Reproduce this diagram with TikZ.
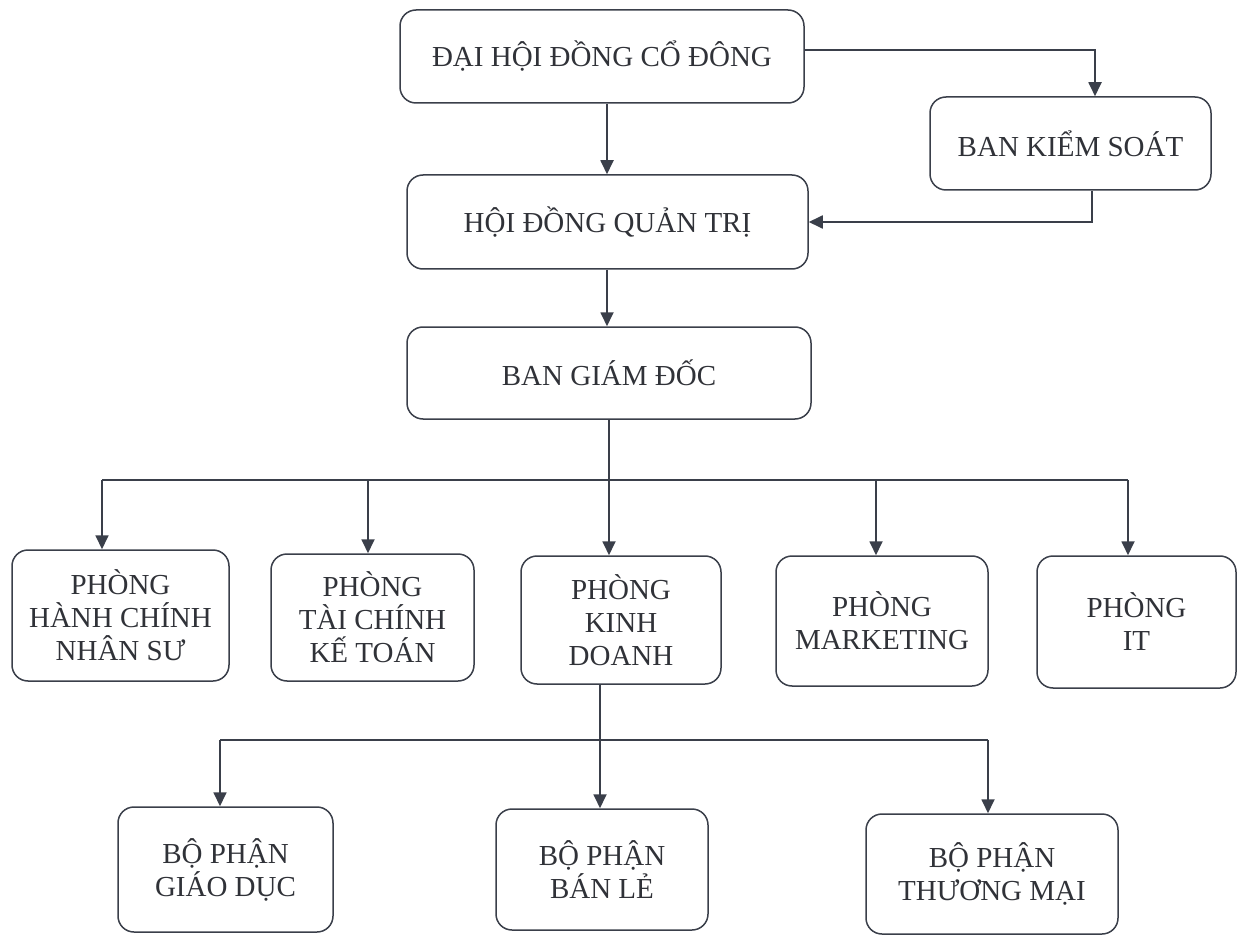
\documentclass[tikz,border=0pt]{standalone}
\usepackage{fontspec}
\setmainfont{Liberation Serif}
\usetikzlibrary{arrows.meta,calc}
\definecolor{ink}{HTML}{3A3F4A}
\definecolor{txt}{HTML}{303238}
\tikzset{
  box/.style={draw=ink, line width=1.5pt, rounded corners=16pt, align=center,
    inner sep=0pt, text=txt, font=\fontsize{29}{33}\selectfont},
  link/.style={draw=ink, line width=1.8pt},
  arr/.style={link, -{Triangle[width=13pt,length=14pt]}}
}
\begin{document}
\begin{tikzpicture}[x=1pt,y=-1pt]
\useasboundingbox (0,0) rectangle (1243,936);
% boxes
\node[box, minimum width=404, minimum height=93] (dh) at (602,56.5) {ĐẠI HỘI ĐỒNG CỔ ĐÔNG};
\node[box, minimum width=281, minimum height=93] (bks) at (1070.5,143.5) {BAN KIỂM SOÁT};
\node[box, minimum width=401, minimum height=94] (hd) at (607.5,222) {HỘI ĐỒNG QUẢN TRỊ};
\node[box, minimum width=404, minimum height=92] (bgd) at (609,373) {BAN GIÁM ĐỐC};
\node[box, minimum width=217, minimum height=131] (p1) at (120.5,615.5) {PHÒNG\\HÀNH CHÍNH\\NHÂN SƯ};
\node[box, minimum width=203, minimum height=127] (p2) at (372.5,617.5) {PHÒNG\\TÀI CHÍNH\\KẾ TOÁN};
\node[box, minimum width=200, minimum height=128] (p3) at (621,620) {PHÒNG\\KINH\\DOANH};
\node[box, minimum width=212, minimum height=130] (p4) at (882,621) {PHÒNG\\MARKETING};
\node[box, minimum width=199, minimum height=132] (p5) at (1136.5,622) {PHÒNG\\IT};
\node[box, minimum width=215, minimum height=125] (b1) at (225.5,869.5) {BỘ PHẬN\\GIÁO DỤC};
\node[box, minimum width=212, minimum height=121] (b2) at (602,869.5) {BỘ PHẬN\\BÁN LẺ};
\node[box, minimum width=252, minimum height=120] (b3) at (992,874) {BỘ PHẬN\\THƯƠNG MẠI};
% upper connectors
\coordinate (k1) at (1095,50);
\draw[arr] (dh.east |- k1) -| (k1 |- bks.north);
\draw[arr] (dh.south -| 607,0) -- (hd.north -| 607,0);
\coordinate (k2) at (1092,222);
\draw[arr] (k2 |- bks.south) |- (hd.east);
\draw[arr] (hd.south -| 607,0) -- (bgd.north -| 607,0);
% department bus
\coordinate (busL) at (102,480);
\coordinate (busR) at (1128,480);
\coordinate (d2) at (368,480);
\coordinate (d3) at (609,480);
\coordinate (d4) at (876,480);
\draw[link] (busL) -- (busR);
\draw[arr] (d3 |- bgd.south) -- (d3 |- p3.north);
\draw[arr] (busL) -- (busL |- p1.north);
\draw[arr] (d2) -- (d2 |- p2.north);
\draw[arr] (d4) -- (d4 |- p4.north);
\draw[arr] (busR) -- (busR |- p5.north);
% sub-department bus
\coordinate (cL) at (220,740);
\coordinate (cM) at (600,740);
\coordinate (cR) at (988,740);
\draw[link] (cL) -- (cR);
\draw[arr] (cM |- p3.south) -- (cM |- b2.north);
\draw[arr] (cL) -- (cL |- b1.north);
\draw[arr] (cR) -- (cR |- b3.north);
\end{tikzpicture}
\end{document}
